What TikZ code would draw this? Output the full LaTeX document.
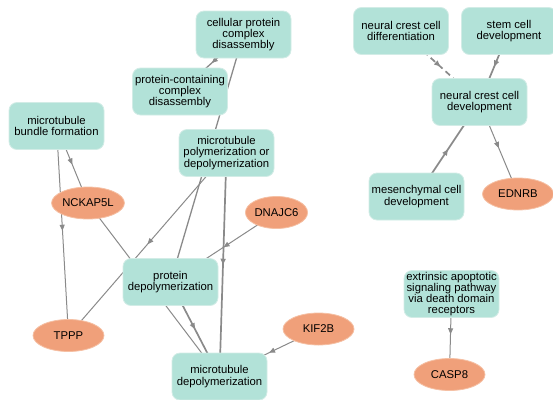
\documentclass[tikz,border=0pt]{standalone}
\usepackage{fontspec}
\setmainfont{Liberation Sans}
\usetikzlibrary{arrows.meta,decorations.markings,shapes.geometric}
\pgfdeclarelayer{bg}
\pgfsetlayers{bg,main}
\definecolor{boxfill}{HTML}{B2E2D8}
\definecolor{boxline}{HTML}{D2ECE6}
\definecolor{genefill}{HTML}{F0A07A}
\definecolor{geneline}{HTML}{F5C0A4}
\definecolor{edgec}{HTML}{8A8A8A}
\tikzset{
  term/.style={rectangle, rounded corners=8pt, fill=boxfill, draw=boxline, line width=0.8pt,
    minimum width=95pt, minimum height=47pt, align=center, inner sep=1pt,
    font=\fontsize{11.3}{11.2}\selectfont},
  gene/.style={ellipse, fill=genefill, draw=geneline, line width=0.8pt,
    minimum width=71pt, minimum height=32pt, inner sep=0pt,
    font=\fontsize{11.3}{11.2}\selectfont},
  link/.style={color=edgec, line width=1pt, postaction={decorate},
    decoration={markings, mark=at position 0.5 with {\arrow{Triangle[length=6pt,width=5pt]}}}},
  heavylink/.style={link, line width=1.7pt},
}
\begin{document}
\begin{tikzpicture}[x=1pt, y=-1pt]
\useasboundingbox (0,0) rectangle (553,399);
\clip (0,0) rectangle (553,399);
% terms
\node[term] (cpcd) at (243.5,34.5) {cellular protein\\complex\\disassembly};
\node[term] (pccd) at (180,91.5) {protein-containing\\complex\\disassembly};
\node[term] (mbf) at (56.5,126) {microtubule\\bundle formation};
\node[term] (mtpd) at (226.5,153) {microtubule\\polymerization or\\depolymerization};
\node[term] (pdep) at (170.5,282) {protein\\depolymerization};
\node[term] (mdep) at (219.5,376.5) {microtubule\\depolymerization};
\node[term] (ncd) at (401,31) {neural crest cell\\differentiation};
\node[term] (scd) at (509,31) {stem cell\\development};
\node[term] (nccd) at (479.5,102) {neural crest cell\\development};
\node[term] (mcd) at (416.5,196.5) {mesenchymal cell\\development};
\node[term] (eas) at (451.5,294) {extrinsic apoptotic\\signaling pathway\\via death domain\\receptors};
% genes
\node[gene] (nck) at (88,203) {NCKAP5L};
\node[gene] (tppp) at (68.5,335.5) {TPPP};
\node[gene, minimum width=61pt] (dnaj) at (276.5,212.5) {DNAJC6};
\node[gene] (kif) at (318.5,329) {KIF2B};
\node[gene] (ednrb) at (518,194) {EDNRB};
\node[gene] (casp) at (449.5,374.5) {CASP8};
% connectors
\begin{pgfonlayer}{bg}
\draw[link, line width=1.3pt] (cpcd.center) -- (pccd.center);
\draw[link, line width=1.3pt] (cpcd.center) -- (pdep.center);
\draw[link] (mbf.center) -- (nck.center);
\draw[link] (mbf.center) -- (tppp.center);
\draw[link] (mtpd.center) -- (tppp.center);
\draw[heavylink] (mtpd.center) -- (mdep.center);
\draw[link] (nck.center) -- (mdep.center);
\draw[heavylink] (pdep.center) -- (mdep.center);
\draw[link] (dnaj.center) -- (pdep.center);
\draw[link] (kif.center) -- (mdep.center);
\draw[heavylink, dash pattern=on 6pt off 4pt] (ncd.center) -- (nccd.center);
\draw[heavylink] (scd.center) -- (nccd.center);
\draw[heavylink] (mcd.center) -- (nccd.center);
\draw[link] (nccd.center) -- (ednrb.center);
\draw[link] (eas.center) -- (casp.center);
\end{pgfonlayer}
\end{tikzpicture}
\end{document}
